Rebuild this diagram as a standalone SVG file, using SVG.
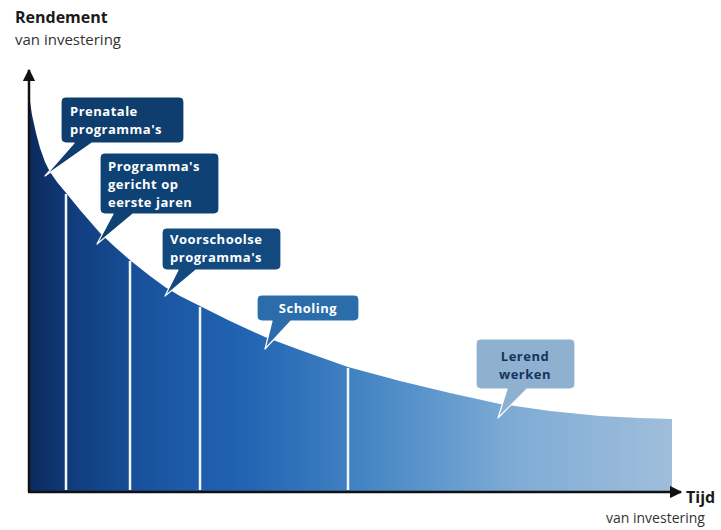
<svg xmlns="http://www.w3.org/2000/svg" width="721" height="530" viewBox="0 0 721 530">
<defs>
<linearGradient id="fillGrad" gradientUnits="userSpaceOnUse" x1="28" y1="0" x2="672" y2="0">
<stop offset="0" stop-color="#0b2a5c"/>
<stop offset="0.08" stop-color="#113f80"/>
<stop offset="0.2" stop-color="#1a55a2"/>
<stop offset="0.35" stop-color="#2366b4"/>
<stop offset="0.55" stop-color="#4a8ac6"/>
<stop offset="0.75" stop-color="#7eabd5"/>
<stop offset="1" stop-color="#a0bedb"/>
</linearGradient>
<marker id="arr" viewBox="0 0 10 10" refX="9" refY="5" markerWidth="5" markerHeight="5" orient="auto-start-reverse" markerUnits="strokeWidth">
<path d="M0,0 L10,5 L0,10 z" fill="#111"/>
</marker>
<style>
.lbl{font-family:"Open Sans","Liberation Sans",sans-serif;font-weight:bold;font-size:13px;letter-spacing:0.5px;fill:#fff}
.lblDark{font-family:"Open Sans","Liberation Sans",sans-serif;font-weight:bold;font-size:13px;letter-spacing:0.5px;fill:#17335e}
.head{font-family:"Open Sans","Liberation Sans",sans-serif;font-weight:bold;font-size:16px;fill:#1a1a1a}
.sub{font-family:"Open Sans","Liberation Sans",sans-serif;font-size:15px;fill:#333}
.div{stroke:#f2f6fb;stroke-width:2.5}
.bubble{stroke:#ffffff;stroke-width:1.2;stroke-linejoin:round}
</style>
</defs>
<rect width="721" height="530" fill="#fff"/>
<g id="area">
<path d="M28,88 L32,115 L36,133 L40,148 L45,162 L50,172 L57,182 L67,194 L80,210 L100,233 L115,247 L131,261 L150,276 L165,287 L180,296 L200,306 L230,321 L265,337 L300,350 L348,367 L400,381 L450,393 L500,404 L550,411 L600,416 L640,418 L672,419 L672,491 L28,491 Z" fill="url(#fillGrad)"/>
<line class="div" x1="66" y1="194" x2="66" y2="490"/>
<line class="div" x1="130" y1="261" x2="130" y2="490"/>
<line class="div" x1="200" y1="307" x2="200" y2="490"/>
<line class="div" x1="348" y1="368" x2="348" y2="490"/>
</g>
<g id="connectors">
<line x1="29" y1="492" x2="29" y2="70" stroke="#111" stroke-width="2.5" marker-end="url(#arr)"/>
<line x1="28" y1="492" x2="681" y2="492" stroke="#111" stroke-width="2.5" marker-end="url(#arr)"/>
</g>
<g id="axis-y-label">
<text class="head" x="15" y="23">Rendement</text>
<text class="sub" x="15" y="45">van investering</text>
</g>
<g id="axis-x-label">
<text class="head" x="686" y="503">Tijd</text>
<text class="sub" x="606" y="523" style="font-size:14px">van investering</text>
</g>
<g id="callout-prenatale">
<path class="bubble" d="M66,97 H179 Q184,97 184,102 V138 Q184,143 179,143 H92 L45,176 L74,143 H66 Q61,143 61,138 V102 Q61,97 66,97 Z" fill="#0f3d6e"/>
<text class="lbl" x="70" y="116">Prenatale<tspan x="70" dy="18">programma's</tspan></text>
</g>
<g id="callout-eerste-jaren">
<path class="bubble" d="M105,153 H214 Q219,153 219,158 V209 Q219,214 214,214 H133 L97,244 L113,214 H105 Q100,214 100,209 V158 Q100,153 105,153 Z" fill="#0f4274"/>
<text class="lbl" x="108" y="171">Programma's<tspan x="108" dy="18">gericht op</tspan><tspan x="108" dy="18">eerste jaren</tspan></text>
</g>
<g id="callout-voorschoolse">
<path class="bubble" d="M167,228 H276 Q281,228 281,233 V265 Q281,270 276,270 H196 L165,296 L178,270 H167 Q162,270 162,265 V233 Q162,228 167,228 Z" fill="#12497f"/>
<text class="lbl" x="170" y="244">Voorschoolse<tspan x="170" dy="18">programma's</tspan></text>
</g>
<g id="callout-scholing">
<path class="bubble" d="M262,295 H354 Q359,295 359,300 V316 Q359,321 354,321 H291 L265,349 L272,321 H262 Q257,321 257,316 V300 Q257,295 262,295 Z" fill="#2b6dab"/>
<text class="lbl" x="308" y="313" text-anchor="middle">Scholing</text>
</g>
<g id="callout-lerend-werken">
<path class="bubble" d="M481,339 H570 Q575,339 575,344 V384 Q575,389 570,389 H527 L498,418 L507,389 H481 Q476,389 476,384 V344 Q476,339 481,339 Z" fill="#8fb1d0"/>
<text class="lblDark" x="525" y="361" text-anchor="middle">Lerend<tspan x="525" dy="18">werken</tspan></text>
</g>
</svg>
